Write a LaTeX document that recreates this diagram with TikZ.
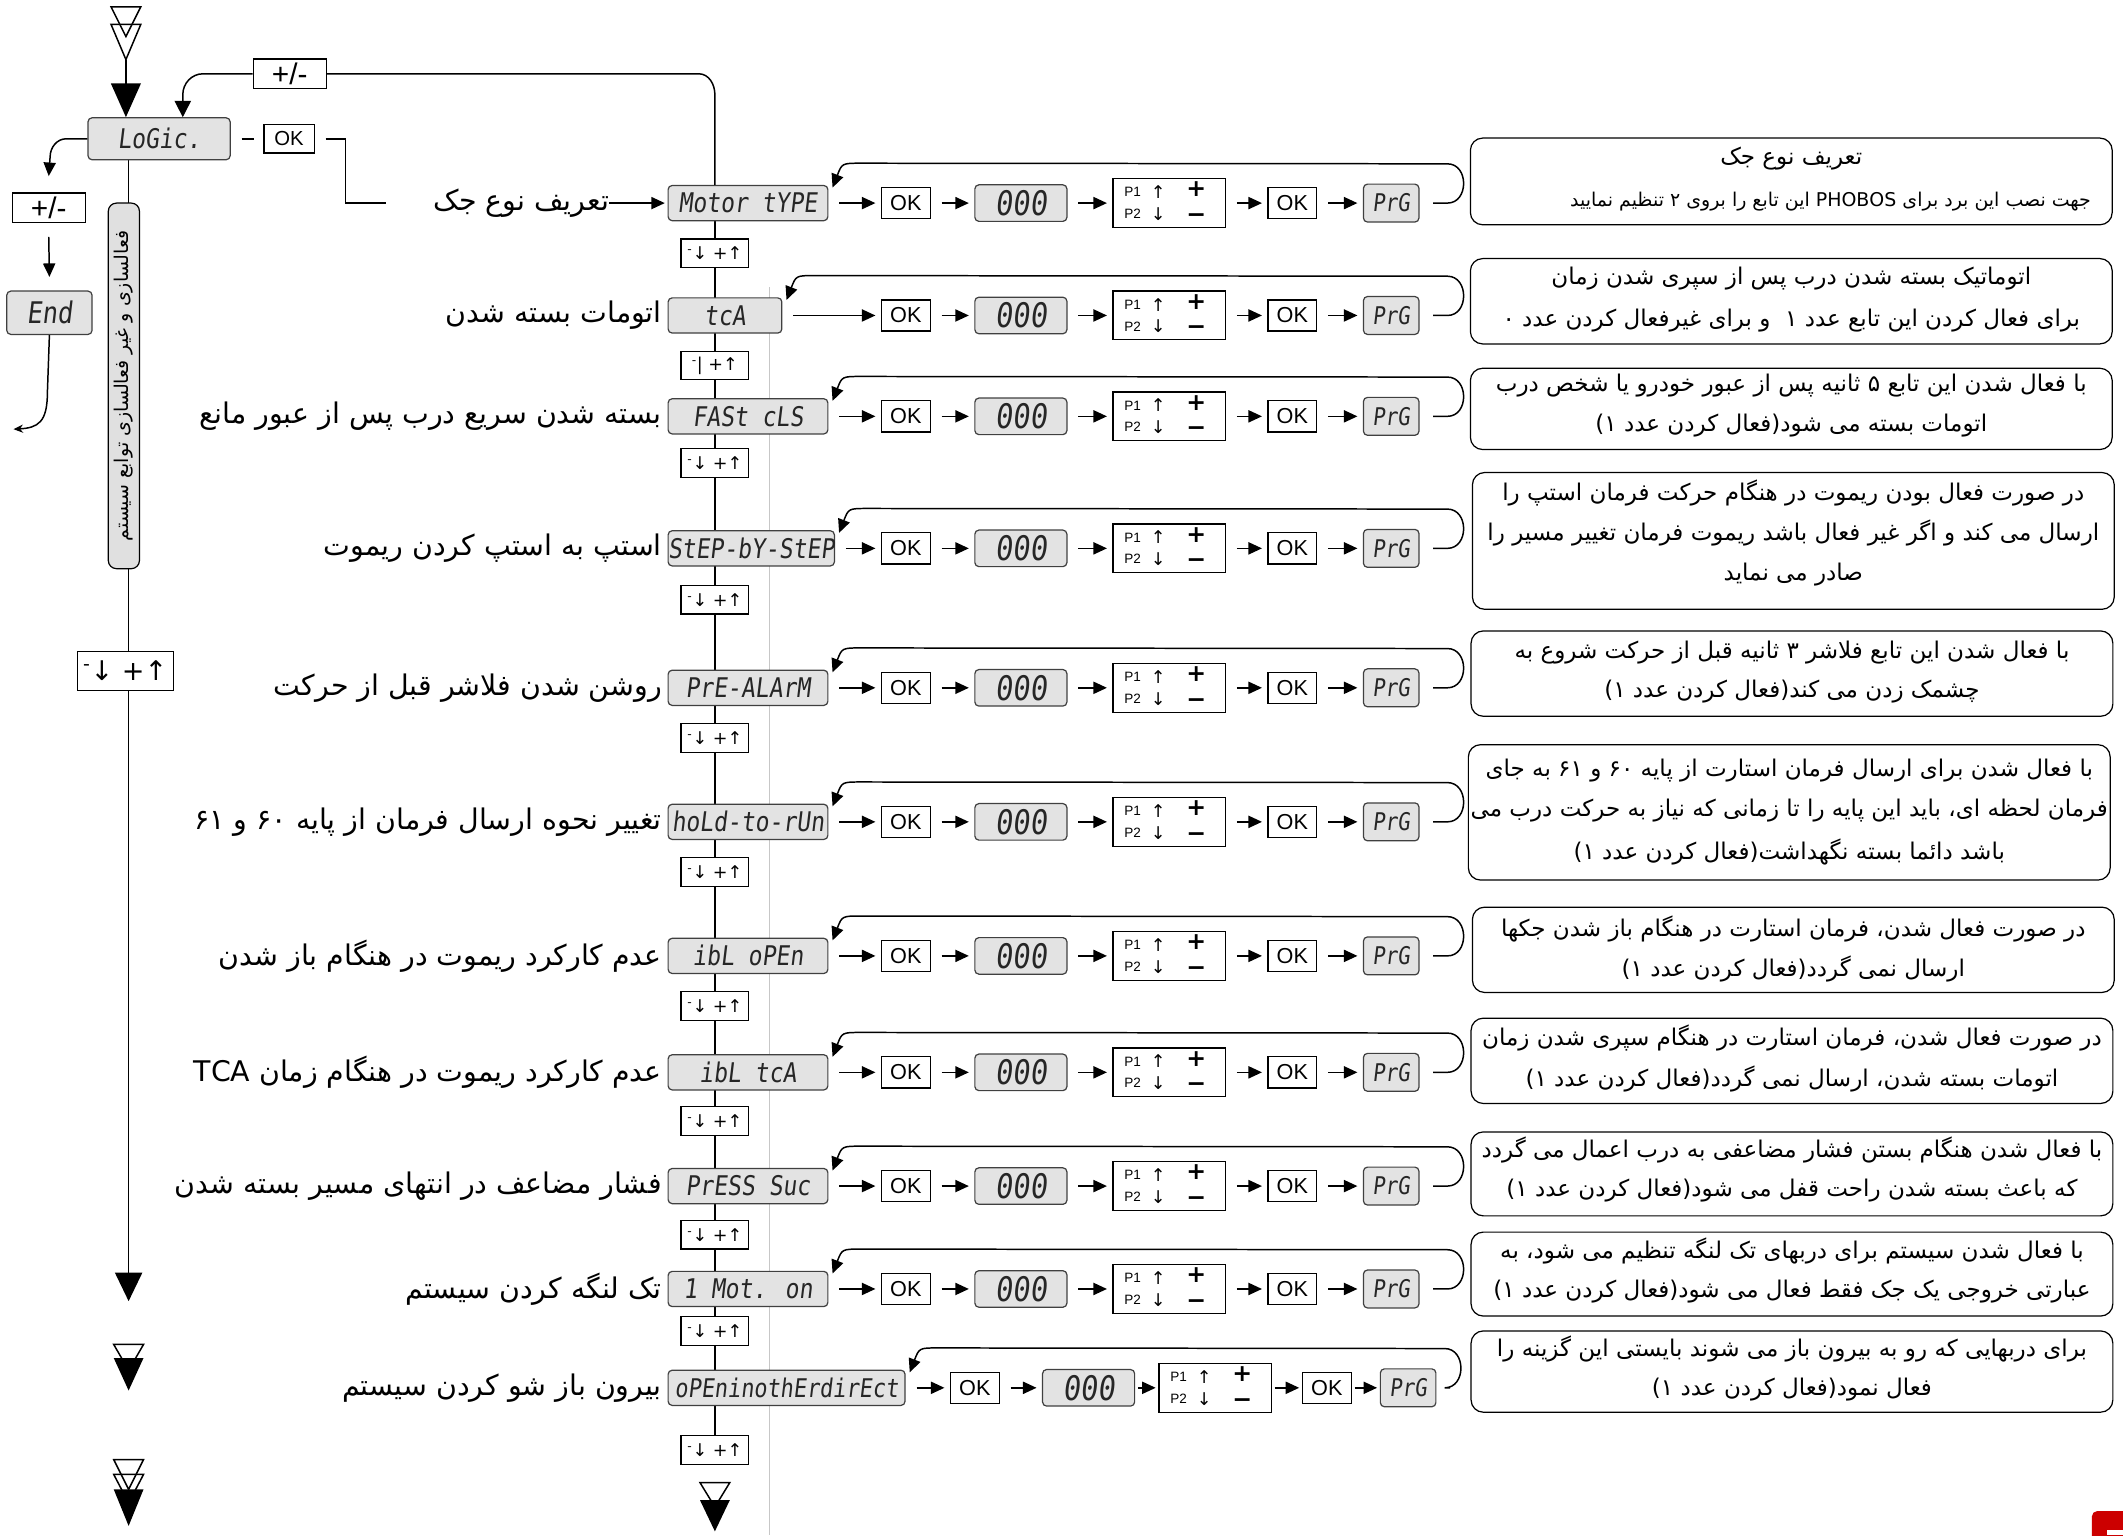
\documentclass[tikz,border=0pt]{standalone}
\usepackage{fontspec}
\usetikzlibrary{arrows.meta,calc}
\setmainfont{Liberation Sans}
\newfontfamily\fafont[Script=Arabic]{DejaVu Sans}
\newfontfamily\segfont[FakeSlant=0.12,FakeStretch=0.85]{DejaVu Sans Mono}
\newfontfamily\symfont{DejaVu Sans}
\newfontfamily\symbold{DejaVu Sans Bold}
\TeXXeTstate=1
\pgfdeclarelayer{bg}
\pgfsetlayers{bg,main}
\tikzset{
  lw/.style={line width=1.1pt},
  arr/.style={-{Triangle[length=10pt,width=9pt]}, line width=1.1pt},
  lcd/.style={draw=black!75, fill=black!11, rounded corners=3pt, line width=0.9pt, minimum height=26pt, inner sep=0pt, font=\segfont\fontsize{20}{20}\selectfont, text=black!85},
  okbox/.style={draw, fill=white, line width=0.9pt, minimum width=36pt, minimum height=23pt, inner sep=0pt, font=\fontsize{16}{16}\selectfont},
  zbox/.style={lcd, minimum width=68pt, minimum height=27pt, font=\segfont\fontsize{25}{25}\selectfont},
  prgbox/.style={lcd, minimum width=41pt, minimum height=28pt, font=\segfont\fontsize{18}{18}\selectfont},
  pbox/.style={draw, fill=white, line width=0.9pt, minimum width=83pt, minimum height=36pt, inner sep=0pt},
  udbox/.style={draw, fill=white, line width=0.9pt, minimum width=50pt, minimum height=21pt, inner sep=0pt, font=\symfont\fontsize{13}{13}\selectfont},
  lbl/.style={anchor=east, inner sep=0pt, font=\fafont\fontsize{21}{24}\selectfont},
  descbox/.style={draw, line width=0.9pt, rounded corners=9pt, minimum width=474pt, inner sep=0pt},
  dline/.style={inner sep=0pt, font=\fafont\fontsize{17}{20}\selectfont},
  psm/.style={inner sep=0pt, font=\fontsize{10}{10}\selectfont},
  parr/.style={inner sep=0pt, font=\symfont\fontsize{13}{13}\selectfont},
  pbig/.style={inner sep=0pt, font=\symbold\fontsize{17.5}{17.5}\selectfont},
  chainarr/.style={arr, shorten <=8pt, shorten >=4pt},
  shortarr/.style={arr, shorten <=2pt, shorten >=2pt},
  pmbox/.style={draw, fill=white, line width=0.9pt, minimum width=54pt, minimum height=22pt, inner sep=0pt, font=\fontsize{22}{22}\selectfont},
}
\newcommand\mkdisp[5]{\node[lcd, minimum width=#3pt, anchor=west, #5] (d#1) at (493,#2) {#4};}
\newcommand\mkchain[8]{%
  \node[okbox] (a#1) at (#3,#2) {OK};
  \node[zbox] (z#1) at (#4,#2) {000};
  \node[pbox] (p#1) at (#5,#2) {};
  \node[psm] at ($(p#1)+(-27,-8)$) {P1};
  \node[psm] at ($(p#1)+(-27,8)$) {P2};
  \node[parr] at ($(p#1)+(-8,-8)$) {↑};
  \node[parr] at ($(p#1)+(-8,8)$) {↓};
  \node[pbig] at ($(p#1)+(20,-10)$) {+};
  \node[pbig] at ($(p#1)+(20,11)$) {−};
  \node[okbox] (b#1) at (#6,#2) {OK};
  \node[prgbox] (g#1) at (#7,#2) {PrG};
  \draw[chainarr] (d#1.east) -- (a#1.west);
  \draw[chainarr] (a#1.east) -- (z#1.west);
  \draw[#8] (z#1.east) -- (p#1.west);
  \draw[#8] (p#1.east) -- (b#1.west);
  \draw[#8] (b#1.east) -- (g#1.west);
}
\newcommand\mkloop[3]{%
  \draw[arr] ([xshift=10pt]g#1.east) -- (#3-14,#2) .. controls (#3+2,#2) and (#3+2,#2-29) .. (#3-14,#2-29)
    -- ($(d#1.north east)+(24,-16)$) .. controls ($(d#1.north east)+(10,-16)$) .. ($(d#1.north east)+(3,2)$);}
\begin{document}
\begin{tikzpicture}[x=1pt,y=-1pt]
\useasboundingbox (0,0) rectangle (1568,1134);
% light guide line
\draw[black!22, line width=0.8pt] (568,212) -- (568,1134);

% ---------- left column ----------
\node[lcd, minimum width=105pt, minimum height=31pt, font=\segfont\fontsize{20}{20}\selectfont] (logic) at (117.5,102.5) {LoGic.};
\node[pmbox] (pm1) at (214,54.5) {+/-};
\node[okbox, minimum width=37pt, minimum height=21pt, font=\fontsize{15}{15}\selectfont] (okL) at (213.5,102.5) {OK};
\node[pmbox] (pm2) at (36,153.5) {+/-};
\node[lcd, minimum width=63pt, minimum height=32pt, font=\segfont\fontsize{22}{22}\selectfont] (endb) at (36.5,231) {End};
\node[draw, fill=black!12, rounded corners=6pt, line width=0.9pt, rotate=90, minimum width=270pt, minimum height=23pt, inner sep=0pt, font=\fafont\fontsize{14}{14}\selectfont] (bar) at (91.5,285) {\beginR فعالسازی و غیر فعالسازی توابع سیستم\endR};
\node[udbox, minimum width=71pt, minimum height=29pt, font=\symfont\fontsize{20}{20}\selectfont] (ubig) at (92.5,495.5) {\textsuperscript{-}↓ +↑};

\coordinate (topin) at (93,44);
\coordinate (lend) at (95,961);
\coordinate (c135) at (135,70);
\coordinate (c528) at (528,70);
\begin{pgfonlayer}{bg}
\draw[-{Triangle[length=21pt,width=20pt]}, lw] (logic.south -| lend) -- (lend);
\end{pgfonlayer}
% top triangles
\draw[lw] (82,5) -- (104,5) -- (93,27) -- cycle;
\draw[lw] (82,18) -- (104,18) -- (93,44) -- cycle;
\draw[-{Triangle[length=25pt,width=22pt]}, lw] (topin) -- (topin |- logic.north);
% bottom-left triangles
\draw[lw] (84,993) -- (106,993) -- (95,1012) -- cycle;
\fill (84,1003) -- (106,1003) -- (95,1027) -- cycle;
\draw[lw] (84,1078) -- (106,1078) -- (95,1100) -- cycle;
\draw[lw] (84,1089) -- (106,1089) -- (95,1110) -- cycle;
\fill (84,1100) -- (106,1100) -- (95,1127) -- cycle;
% bottom centre triangles
\draw[lw] (517,1095) -- (539,1095) -- (528,1113) -- cycle;
\fill (517,1108) -- (539,1108) -- (528,1131) -- cycle;

% connectors around LoGic
\draw[lw, -{Triangle[length=12pt,width=12pt]}] (pm1.west) -- (150,54.5) to[out=180,in=90] (c135) -- (c135 |- logic.north);
\draw[arr] (logic.west) -- (49,102.5) to[out=180,in=90] (37,116) -- ([yshift=12pt]pm2.north);
\draw[arr] ([yshift=-10pt]pm2.south) -- ([yshift=10pt]endb.north);
\draw[lw, -{Stealth[length=7pt,width=6pt]}] (endb.south) -- (35,290) .. controls (35,312) and (28,316) .. (10,317);
\draw[lw] ([xshift=8pt]logic.east) -- ([xshift=-7pt]okL.west);

% ---------- main column ----------
\mkdisp{1}{150}{118}{Motor tYPE}{}
\mkdisp{2}{233}{84}{tcA}{}
\mkdisp{3}{307.5}{118}{FASt cLS}{}
\mkdisp{4}{405}{118}{StEP-bY-StEP}{}
\mkdisp{5}{508}{118}{PrE-ALArM}{}
\mkdisp{6}{607}{118}{hoLd-to-rUn}{}
\mkdisp{7}{706}{118}{ibL oPEn}{}
\mkdisp{8}{792}{118}{ibL tcA}{}
\mkdisp{9}{876}{118}{PrESS Suc}{}
\mkdisp{10}{952}{118}{1 Mot. on}{}
\mkdisp{11}{1025}{175}{oPEninothErdirEct}{font=\segfont\fontsize{19}{19}\selectfont}

\node[udbox] (u1) at (528,187) {\textsuperscript{-}↓ +↑};
\node[udbox] (u2) at (528,270) {\textsuperscript{-}| +↑};
\node[udbox] (u3) at (528,342) {\textsuperscript{-}↓ +↑};
\node[udbox] (u4) at (528,443) {\textsuperscript{-}↓ +↑};
\node[udbox] (u5) at (528,545) {\textsuperscript{-}↓ +↑};
\node[udbox] (u6) at (528,644) {\textsuperscript{-}↓ +↑};
\node[udbox] (u7) at (528,743) {\textsuperscript{-}↓ +↑};
\node[udbox] (u8) at (528,828) {\textsuperscript{-}↓ +↑};
\node[udbox] (u9) at (528,912) {\textsuperscript{-}↓ +↑};
\node[udbox] (u10) at (528,983) {\textsuperscript{-}↓ +↑};
\node[udbox] (u11) at (528,1071) {\textsuperscript{-}↓ +↑};
\begin{pgfonlayer}{bg}
\draw[lw] (u11.south) -- (u11.south |- d1.south);
\end{pgfonlayer}

% top +/- connectors
\draw[lw] (pm1.east) -- (516,54.5) to[out=0,in=90] (c528) -- (c528 |- d1.north);
\node[lbl] (l1) at (450,150) {\beginR تعریف نوع جک\endR};
\draw[lw] ([xshift=8pt]okL.east) -- (255,102.5) -- (255,150) -- ([xshift=-35pt]l1.west);
\draw[arr] (l1.east) -- ([xshift=-2pt]d1.west);

% labels
\node[lbl] (l2) at (489,233) {\beginR اتومات بسته شدن\endR};
\node[lbl] (l3) at (489,307.5) {\beginR بسته شدن سریع درب پس از عبور مانع\endR};
\node[lbl] (l4) at (489,405) {\beginR استپ به استپ کردن ریموت\endR};
\node[lbl] (l5) at (489,508) {\beginR روشن شدن فلاشر قبل از حرکت\endR};
\node[lbl] (l6) at (489,607) {\beginR تغییر نحوه ارسال فرمان از پایه ۶۰ و ۶۱\endR};
\node[lbl] (l7) at (489,706) {\beginR عدم کارکرد ریموت در هنگام باز شدن\endR};
\node[lbl] (l8) at (489,792) {\beginR عدم کارکرد ریموت در هنگام زمان TCA\endR};
\node[lbl] (l9) at (489,876) {\beginR فشار مضاعف در انتهای مسیر بسته شدن\endR};
\node[lbl] (l10) at (489,952) {\beginR تک لنگه کردن سیستم\endR};
\node[lbl] (l11) at (489,1025) {\beginR بیرون باز شو کردن سیستم\endR};

% chains
\foreach \i/\y in {1/150,2/233,3/307.5,4/405,5/508,6/607,7/706,8/792,9/876,10/952}{
  \mkchain{\i}{\y}{669}{754}{863.5}{954.5}{1027.5}{chainarr}
  \mkloop{\i}{\y}{1083}
}
\mkchain{11}{1025}{720}{804}{897.5}{980}{1040}{shortarr}
\mkloop{11}{1025}{1081}

% descriptions
\node[descbox, minimum height=64pt] (t1) at (1323,134) {};
\node[dline] at (1323,117) {\beginR تعریف نوع جک\endR};
\node[dline, font=\fafont\fontsize{14}{16}\selectfont] at (1352,149) {\beginR جهت نصب این برد برای PHOBOS این تابع را بروی ۲ تنظیم نمایید\endR};

\node[descbox, minimum height=63pt] (t2) at (1323,222.5) {};
\node[dline] at (1323,206) {\beginR اتوماتیک بسته شدن درب پس از سپری شدن زمان\endR};
\node[dline] at (1323,237) {\beginR برای فعال کردن این تابع عدد ۱ \ و برای غیرفعال کردن عدد ۰\endR};

\node[descbox, minimum height=60pt] (t3) at (1323,302) {};
\node[dline] at (1323,285) {\beginR با فعال شدن این تابع ۵ ثانیه پس از عبور خودرو یا شخص درب\endR};
\node[dline] at (1323,314) {\beginR اتومات بسته می شود(فعال کردن عدد ۱)\endR};

\node[descbox, minimum height=101pt] (t4) at (1324.5,399.5) {};
\node[dline] at (1324.5,364) {\beginR در صورت فعال بودن ریموت در هنگام حرکت فرمان استپ را\endR};
\node[dline] at (1324.5,394) {\beginR ارسال می کند و اگر غیر فعال باشد ریموت فرمان تغییر مسیر را\endR};
\node[dline] at (1324.5,424) {\beginR صادر می نماید\endR};

\node[descbox, minimum height=63pt] (t5) at (1323.5,497.5) {};
\node[dline] at (1323.5,482) {\beginR با فعال شدن این تابع فلاشر ۳ ثانیه قبل از حرکت شروع به\endR};
\node[dline] at (1323.5,511) {\beginR چشمک زدن می کند(فعال کردن عدد ۱)\endR};

\node[descbox, minimum height=100pt] (t6) at (1321.5,600) {};
\node[dline] at (1321.5,569) {\beginR با فعال شدن برای  ارسال فرمان استارت از پایه ۶۰ و ۶۱ به جای\endR};
\node[dline] at (1321.5,599) {\beginR فرمان لحظه ای، باید این پایه را تا زمانی که نیاز به حرکت درب می\endR};
\node[dline] at (1321.5,629) {\beginR باشد دائما بسته نگهداشت(فعال کردن عدد ۱)\endR};

\node[descbox, minimum height=63pt] (t7) at (1324.5,701.5) {};
\node[dline] at (1324.5,686) {\beginR در صورت فعال شدن، فرمان استارت در هنگام باز شدن جکها\endR};
\node[dline] at (1324.5,716) {\beginR ارسال نمی گردد(فعال کردن عدد ۱)\endR};

\node[descbox, minimum height=63pt] (t8) at (1323.5,783.5) {};
\node[dline] at (1323.5,767) {\beginR در صورت فعال شدن، فرمان استارت در هنگام سپری شدن زمان\endR};
\node[dline] at (1323.5,797) {\beginR اتومات بسته شدن، ارسال نمی گردد(فعال کردن عدد ۱)\endR};

\node[descbox, minimum height=62pt] (t9) at (1323.5,867) {};
\node[dline] at (1323.5,849) {\beginR با فعال شدن هنگام بستن فشار مضاعفی به درب اعمال می گردد\endR};
\node[dline] at (1323.5,879) {\beginR که باعث بسته شدن راحت قفل می شود(فعال کردن عدد ۱)\endR};

\node[descbox, minimum height=62pt] (t10) at (1323.5,941) {};
\node[dline] at (1323.5,924) {\beginR با فعال شدن سیستم برای دربهای تک لنگه تنظیم می شود، به\endR};
\node[dline] at (1323.5,954) {\beginR عبارتی خروجی یک جک فقط فعال می شود(فعال کردن عدد ۱)\endR};

\node[descbox, minimum height=60pt] (t11) at (1323.5,1013) {};
\node[dline] at (1323.5,996) {\beginR برای دربهایی که رو به بیرون باز می شوند بایستی این گزینه را\endR};
\node[dline] at (1323.5,1026) {\beginR فعال نمود(فعال کردن عدد ۱)\endR};

% corner logo
\begin{scope}
\clip (0,0) rectangle (1568,1134);
\fill[red!80!black, rounded corners=4pt] (1545,1116) rectangle (1590,1160);
\fill[white] (1556,1130) rectangle (1568,1134);
\end{scope}
\end{tikzpicture}
\end{document}
